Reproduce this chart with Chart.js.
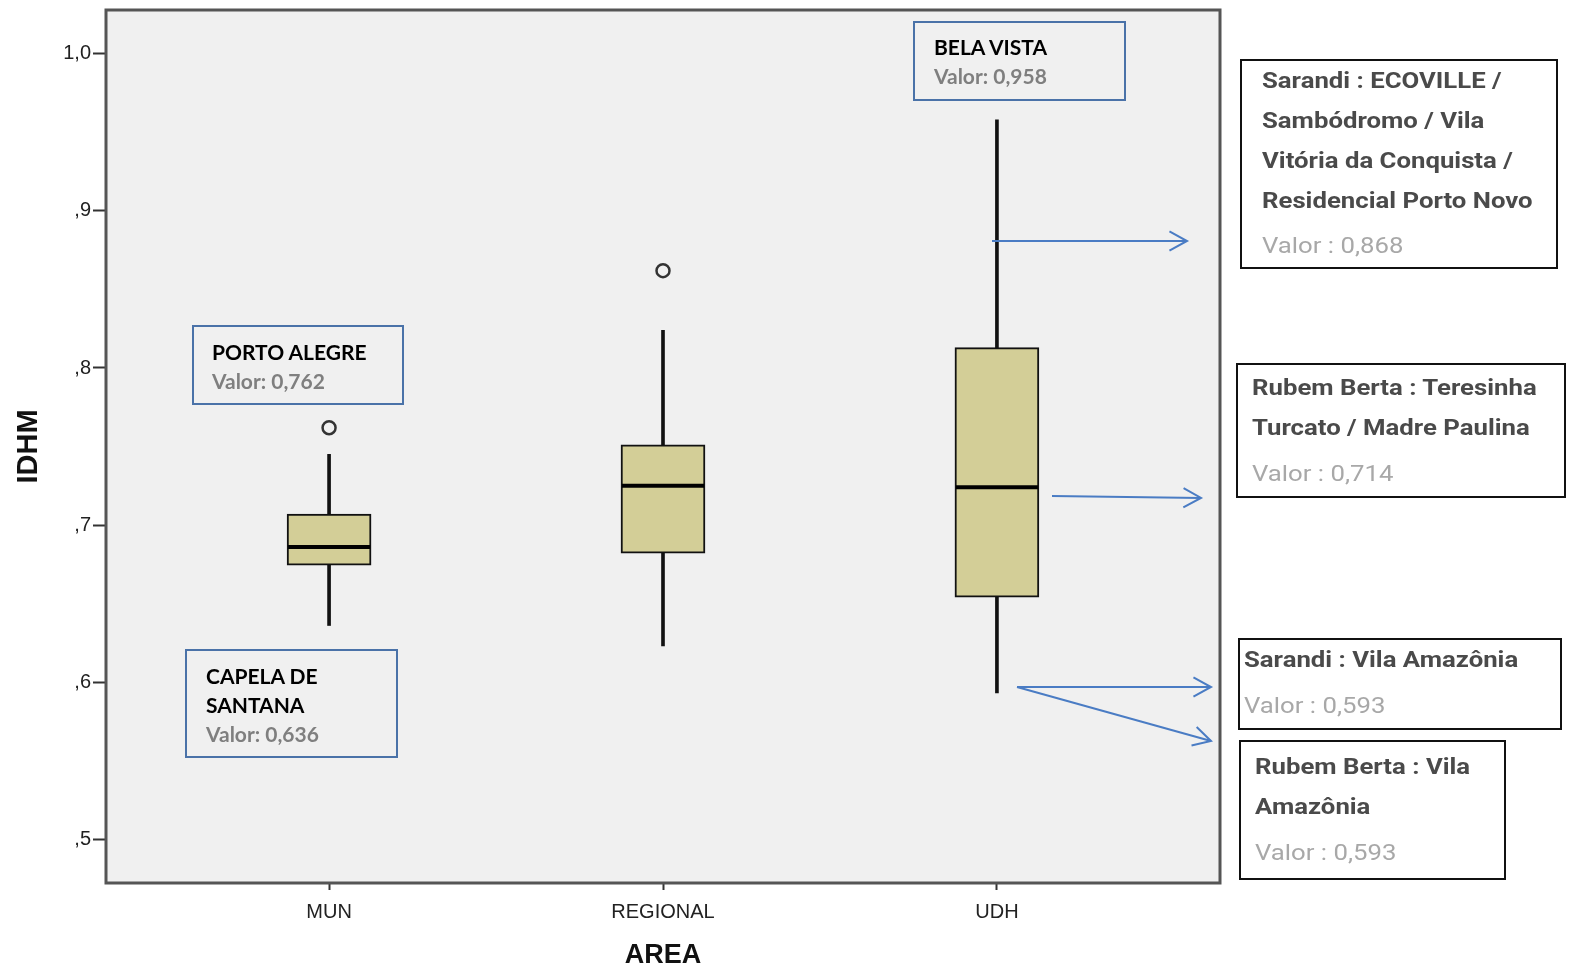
<!DOCTYPE html>
<html>
<head>
<meta charset="utf-8">
<script src="https://cdn.jsdelivr.net/npm/chart.js@4.4.1/dist/chart.umd.min.js"></script>
<style>
  body { margin: 0; background: #fff; }
  #wrap { position: relative; width: 1570px; height: 970px; overflow: hidden; }
  #chart { position: absolute; left: 0; top: 0; }
  .note { position: absolute; box-sizing: border-box; }
  .blue { border: 2px solid #4a72a8; font-family: Lato, "Open Sans", sans-serif; font-weight: 700; font-size: 21px; line-height: 29px; }
  .blue .t { color: #000; }
  .blue .v { color: #7f7f7f; }
  .side { border: 2px solid #111; background: #fff; font-family: Roboto, sans-serif; font-size: 22px; line-height: 40px; }
  .side .in { transform: scaleX(1.17); transform-origin: 0 0; white-space: nowrap; }
  .side .t { color: #4a4a4a; font-weight: 700; }
  .side .v { color: #a8a8a8; font-weight: 400; }
</style>
</head>
<body>
<div id="wrap">
  <canvas id="chart" width="1570" height="970"></canvas>

  <div class="note blue" style="left:192px;top:325px;width:212px;height:80px;padding:10px 0 0 18px;">
    <div class="t">PORTO ALEGRE</div><div class="v">Valor: 0,762</div>
  </div>
  <div class="note blue" style="left:185px;top:649px;width:213px;height:109px;padding:10px 0 0 19px;">
    <div class="t">CAPELA DE</div><div class="t">SANTANA</div><div class="v">Valor: 0,636</div>
  </div>
  <div class="note blue" style="left:913px;top:21px;width:213px;height:80px;padding:9px 0 0 19px;">
    <div class="t">BELA VISTA</div><div class="v">Valor: 0,958</div>
  </div>

  <div class="note side" style="left:1240px;top:59px;width:318px;height:210px;padding:0 0 0 20px;">
    <div class="in">
      <div class="t">Sarandi : ECOVILLE /</div><div class="t">Sambódromo / Vila</div>
      <div class="t">Vitória da Conquista /</div><div class="t">Residencial Porto Novo</div>
      <div class="v" style="margin-top:5px;">Valor : 0,868</div>
    </div>
  </div>
  <div class="note side" style="left:1236px;top:363px;width:330px;height:135px;padding:3px 0 0 14px;">
    <div class="in">
      <div class="t">Rubem Berta : Teresinha</div><div class="t">Turcato / Madre Paulina</div>
      <div class="v" style="margin-top:6px;">Valor : 0,714</div>
    </div>
  </div>
  <div class="note side" style="left:1238px;top:638px;width:324px;height:92px;padding:0 0 0 4px;">
    <div class="in">
      <div class="t">Sarandi : Vila Amazônia</div>
      <div class="v" style="margin-top:6px;">Valor : 0,593</div>
    </div>
  </div>
  <div class="note side" style="left:1239px;top:740px;width:267px;height:140px;padding:5px 0 0 14px;">
    <div class="in">
      <div class="t">Rubem Berta : Vila</div><div class="t">Amazônia</div>
      <div class="v" style="margin-top:6px;">Valor : 0,593</div>
    </div>
  </div>
</div>

<script>
// categories and box statistics (IDHM)
const categories = ['MUN', 'REGIONAL', 'UDH'];
const whiskerLow = [0.636, 0.623, 0.593];
const q1 = [0.6745, 0.682, 0.654];
const median = [0.686, 0.725, 0.724];
const q3 = [0.707, 0.751, 0.813];
const whiskerHigh = [0.745, 0.824, 0.958];
const outliers = [[0.762], [0.862], []];
const yTicks = [0.5, 0.6, 0.7, 0.8, 0.9, 1.0];
const yTickLabels = [',5', ',6', ',7', ',8', ',9', '1,0'];

const boxData = categories.map((c, i) => ({ x: i, y: [q1[i], q3[i]] }));
const whiskerData = categories.map((c, i) => ({ x: i, y: [whiskerLow[i], whiskerHigh[i]] }));
const outlierData = [];
outliers.forEach((list, i) => list.forEach(v => outlierData.push({ x: i, y: v })));

const plotFrame = {
  id: 'plotFrame',
  beforeDraw(chart) {
    const { ctx, chartArea: a } = chart;
    ctx.save();
    ctx.fillStyle = '#f0f0f0';
    ctx.fillRect(a.left, a.top, a.right - a.left, a.bottom - a.top);
    ctx.restore();
  },
  afterDatasetsDraw(chart) {
    const { ctx, chartArea: a, scales } = chart;
    const meta = chart.getDatasetMeta(1);
    ctx.save();
    // median lines
    ctx.strokeStyle = '#000';
    ctx.lineWidth = 4;
    meta.data.forEach((bar, i) => {
      const y = scales.y.getPixelForValue(median[i]);
      ctx.beginPath();
      ctx.moveTo(bar.x - bar.width / 2 + 1, y);
      ctx.lineTo(bar.x + bar.width / 2 - 1, y);
      ctx.stroke();
    });
    // frame
    ctx.strokeStyle = '#555';
    ctx.lineWidth = 3;
    ctx.strokeRect(a.left, a.top, a.right - a.left, a.bottom - a.top);
    ctx.restore();
  },
  afterDraw(chart) {
    const ctx = chart.ctx;
    const arrows = [
      [992, 241, 1187, 241],
      [1052, 496, 1201, 498],
      [1017, 687, 1211, 687],
      [1017, 687, 1211, 741]
    ];
    ctx.save();
    ctx.strokeStyle = '#4a7cc4';
    ctx.lineWidth = 2;
    arrows.forEach(([x1, y1, x2, y2]) => {
      const ang = Math.atan2(y2 - y1, x2 - x1);
      ctx.beginPath();
      ctx.moveTo(x1, y1);
      ctx.lineTo(x2, y2);
      ctx.stroke();
      ctx.beginPath();
      ctx.moveTo(x2 - 20 * Math.cos(ang - 0.5), y2 - 20 * Math.sin(ang - 0.5));
      ctx.lineTo(x2, y2);
      ctx.lineTo(x2 - 20 * Math.cos(ang + 0.5), y2 - 20 * Math.sin(ang + 0.5));
      ctx.stroke();
    });
    ctx.restore();
  }
};

new Chart(document.getElementById('chart'), {
  type: 'bar',
  data: {
    datasets: [
      {
        type: 'scatter',
        data: outlierData,
        order: 0,
        pointRadius: 6.5,
        pointBorderWidth: 2.5,
        pointBorderColor: '#333',
        pointBackgroundColor: 'rgba(0,0,0,0)'
      },
      {
        data: boxData,
        order: 1,
        grouped: false,
        barThickness: 84,
        backgroundColor: '#d3ce97',
        borderColor: '#111',
        borderWidth: 2,
        borderSkipped: false
      },
      {
        data: whiskerData,
        order: 2,
        grouped: false,
        barThickness: 3,
        backgroundColor: '#111',
        borderWidth: 0
      }
    ]
  },
  options: {
    responsive: false,
    animation: false,
    layout: { padding: { top: 10, right: 350, left: 0, bottom: 0 } },
    plugins: { legend: { display: false }, tooltip: { enabled: false } },
    scales: {
      x: {
        type: 'linear',
        offset: false,
        min: -0.668,
        max: 2.668,
        afterBuildTicks(scale) { scale.ticks = categories.map((c, i) => ({ value: i })); },
        afterFit(scale) { scale.height = 87; scale.paddingLeft = 0; scale.paddingRight = 0; },
        border: { display: false },
        grid: { offset: false, drawOnChartArea: false, drawTicks: true, tickLength: 7, tickColor: '#333', tickWidth: 2 },
        ticks: {
          padding: 10,
          color: '#222',
          font: { family: '"Liberation Sans", Arial, sans-serif', size: 20 },
          callback: v => categories[v]
        },
        title: {
          display: true,
          text: 'AREA',
          color: '#111',
          padding: { top: 0, bottom: 1 },
          font: { family: '"Liberation Sans", Arial, sans-serif', size: 27, weight: 'bold', lineHeight: 1 }
        }
      },
      y: {
        min: 0.472,
        max: 1.028,
        afterBuildTicks(scale) { scale.ticks = yTicks.map(v => ({ value: v })); },
        afterFit(scale) { scale.width = 106; scale.paddingTop = 0; scale.paddingBottom = 0; },
        border: { display: false },
        grid: { drawOnChartArea: false, drawTicks: true, tickLength: 13, tickColor: '#333', tickWidth: 2 },
        ticks: {
          padding: 2,
          color: '#222',
          font: { family: '"Liberation Sans", Arial, sans-serif', size: 20 },
          callback: v => yTickLabels[yTicks.indexOf(Math.round(v * 10) / 10)]
        },
        title: {
          display: true,
          text: 'IDHM',
          color: '#111',
          padding: { top: 14, bottom: 0 },
          font: { family: '"Liberation Sans", Arial, sans-serif', size: 29, weight: 'bold', lineHeight: 1 }
        }
      }
    }
  },
  plugins: [plotFrame]
});
</script>
</body>
</html>
